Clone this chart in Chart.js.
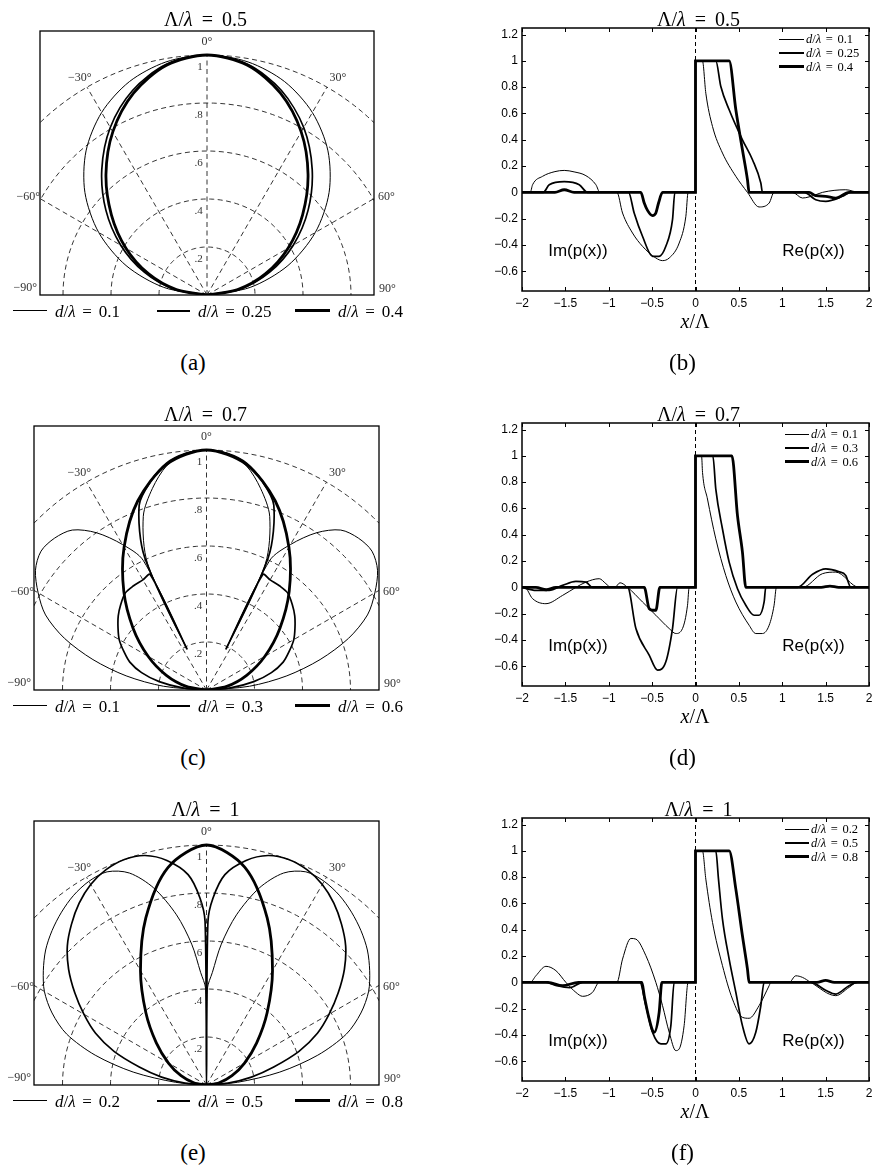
<!DOCTYPE html>
<html>
<head>
<meta charset="utf-8">
<script src="https://cdn.jsdelivr.net/npm/chart.js@4/dist/chart.umd.min.js"></script>
<style>
  html, body { margin: 0; padding: 0; background: #fff; }
  body { width: 872px; height: 1169px; position: relative; overflow: hidden; font-family: "Liberation Serif", serif; }
  canvas { position: absolute; }
  .tx { position: absolute; white-space: nowrap; line-height: 1; color: #000; }
  .ln { position: absolute; background: #000; }
</style>
</head>
<body>
<script>
// ---------- polar patterns (angle in degrees, normalised amplitude), mirrored to negative angles ----------
const angA = [0, 10, 20, 30, 40, 50, 60, 70, 80, 90];
const rA1 = [1, 0.986, 0.946, 0.878, 0.784, 0.664, 0.521, 0.359, 0.183, 0];   // d/λ = 0.1
const rA2 = [1, 0.976, 0.907, 0.806, 0.682, 0.55, 0.415, 0.278, 0.14, 0];     // d/λ = 0.25
const rA3 = [1, 0.972, 0.895, 0.785, 0.655, 0.52, 0.39, 0.26, 0.13, 0];       // d/λ = 0.4

const angC = [0, 5, 10, 15, 20, 25, 25.5, 26, 30, 35, 40, 45, 50, 55, 60, 65, 70, 75, 80, 85, 90];
const rC1 = [1, 0.99, 0.95, 0.87, 0.77, 0.58, 0.19, 0.6, 0.7, 0.8, 0.87, 0.895, 0.9, 0.87, 0.81, 0.74, 0.63, 0.49, 0.34, 0.18, 0];
const rC2 = [1, 0.99, 0.96, 0.9, 0.82, 0.61, 0.19, 0.535, 0.53, 0.53, 0.527, 0.505, 0.48, 0.45, 0.42, 0.38, 0.34, 0.28, 0.2, 0.1, 0];
const rC3 = [1, 0.955, 0.838, 0.687, 0.536, 0.399, 0.281, 0.178, 0.086, 0];   // on angA

const angE1 = [0, 0.5, 3, 6, 10, 15, 20, 25, 30, 35, 40, 45, 50, 55, 60, 65, 70, 75, 80, 85, 90];
const rE1 = [0, 0.4, 0.47, 0.59, 0.72, 0.85, 0.94, 0.98, 0.98, 0.965, 0.94, 0.91, 0.875, 0.83, 0.78, 0.71, 0.62, 0.48, 0.31, 0.13, 0];
const angE2 = [0, 0.5, 2, 5, 10, 15, 20, 25, 30, 35, 40, 45, 50, 55, 60, 65, 70, 75, 80, 85, 90];
const rE2 = [0, 0.68, 0.78, 0.88, 0.95, 0.99, 1, 0.99, 0.965, 0.925, 0.875, 0.82, 0.75, 0.67, 0.59, 0.51, 0.41, 0.29, 0.19, 0.09, 0];
const rE3 = [1, 0.921, 0.74, 0.55, 0.393, 0.273, 0.183, 0.113, 0.054, 0];    // on angA

// ---------- p(x) profiles: x/Λ and value ----------
const xB1 = [-2, -1.905, -1.878, -1.763, -1.62, -1.513, -1.4, -1.263, -1.148, -1.102, -0.906, -0.841, -0.726, -0.611, -0.457, -0.38, -0.303, -0.188, -0.111, -0.085, 0, 0, 0.08, 0.119, 0.196, 0.311, 0.465, 0.599, 0.733, 0.849, 0.906, 1.117, 1.233, 1.386, 1.463, 1.732, 1.886, 2];
const yB1 = [0, 0, 0.058, 0.122, 0.158, 0.167, 0.156, 0.127, 0.058, 0, 0, -0.157, -0.309, -0.41, -0.499, -0.519, -0.499, -0.385, -0.182, 0, 0, 1, 1, 0.754, 0.501, 0.299, 0.122, 0, -0.111, -0.081, 0, 0, -0.043, -0.018, 0, 0.02, 0, 0];
const xB2 = [-2, -1.755, -1.686, -1.513, -1.34, -1.244, -0.772, -0.707, -0.611, -0.495, -0.419, -0.342, -0.265, -0.238, 0, 0, 0.234, 0.292, 0.388, 0.541, 0.657, 0.753, 0.772, 1.252, 1.386, 1.502, 1.694, 1.79, 2];
const yB2 = [0, 0, 0.058, 0.081, 0.058, 0, 0, -0.157, -0.334, -0.486, -0.486, -0.41, -0.208, 0, 0, 1, 1, 0.805, 0.628, 0.4, 0.248, 0.071, 0, 0, -0.056, -0.068, -0.03, 0, 0];
const xB3 = [-2, -1.62, -1.513, -1.4, -0.63, -0.591, -0.553, -0.495, -0.457, -0.426, -0.38, 0, 0, 0.388, 0.465, 0.541, 0.599, 0.618, 1.31, 1.386, 1.5, 1.617, 1.77, 2];
const yB3 = [0, 0, 0.02, 0, 0, -0.081, -0.137, -0.177, -0.157, -0.081, 0, 0, 1, 1, 0.628, 0.324, 0.096, 0, 0, -0.025, -0.03, -0.043, 0, 0];

const xD1 = [-2, -1.97, -1.878, -1.724, -1.532, -1.379, -1.263, -1.11, -1.033, -0.975, -0.93, -0.87, -0.783, -0.611, -0.457, -0.303, -0.227, -0.15, -0.092, -0.073, 0, 0, 0.07, 0.081, 0.138, 0.234, 0.349, 0.465, 0.618, 0.695, 0.772, 0.849, 0.906, 0.933, 1.233, 1.463, 1.617, 1.886, 2];
const yD1 = [0, 0, -0.086, -0.124, -0.061, 0, 0.04, 0.066, 0.028, 0, 0, 0.035, 0, -0.111, -0.212, -0.313, -0.351, -0.313, -0.136, 0, 0, 1, 1, 0.874, 0.672, 0.369, 0.091, -0.111, -0.288, -0.351, -0.351, -0.288, -0.136, 0, 0, 0.104, 0.116, 0, 0];
const xD2 = [-2, -1.84, -1.686, -1.532, -1.379, -1.263, -1.187, -0.783, -0.687, -0.534, -0.438, -0.342, -0.265, -0.207, 0, 0, 0.2, 0.234, 0.311, 0.388, 0.484, 0.58, 0.676, 0.733, 0.791, 0.81, 1.175, 1.35, 1.502, 1.65, 1.732, 1.79, 2];
const yD2 = [0, -0.023, -0.023, 0.015, 0.045, 0.04, 0, 0, -0.313, -0.515, -0.629, -0.566, -0.313, 0, 0, 1, 1, 0.747, 0.444, 0.192, -0.01, -0.136, -0.212, -0.212, -0.111, 0, 0, 0.1, 0.141, 0.12, 0.091, 0, 0];
const xD3 = [-2, -1.84, -1.72, -1.61, -0.591, -0.534, -0.495, -0.457, -0.411, 0, 0, 0.42, 0.484, 0.541, 0.58, 1.45, 1.55, 1.65, 2];
const yD3 = [0, 0, -0.018, 0, 0, -0.162, -0.174, -0.174, 0, 0, 1, 1, 0.545, 0.268, 0, 0, 0.01, 0, 0];

const xF1 = [-2, -1.905, -1.84, -1.724, -1.609, -1.494, -1.379, -1.302, -1.187, -1.11, -0.906, -0.841, -0.745, -0.687, -0.572, -0.457, -0.38, -0.303, -0.227, -0.188, -0.131, -0.085, 0, 0, 0.08, 0.119, 0.196, 0.311, 0.426, 0.541, 0.618, 0.733, 0.849, 0.868, 1.08, 1.156, 1.233, 1.329, 1.617, 1.77, 1.866, 2];
const yF1 = [0, 0, 0.05, 0.122, 0.089, 0, -0.076, -0.106, -0.076, 0, 0, 0.177, 0.334, 0.329, 0.203, 0, -0.177, -0.38, -0.519, -0.506, -0.329, 0, 0, 1, 1, 0.785, 0.456, 0.127, -0.127, -0.266, -0.273, -0.177, -0.025, 0, 0, 0.05, 0.038, 0, -0.101, -0.038, 0, 0];
const xF2 = [-2, -1.724, -1.6, -1.45, -1.3, -0.641, -0.572, -0.495, -0.399, -0.342, -0.284, -0.246, 0, 0, 0.234, 0.265, 0.311, 0.388, 0.465, 0.541, 0.618, 0.695, 0.753, 0.791, 1.33, 1.5, 1.617, 1.77, 1.87, 2];
const yF2 = [0, 0, -0.025, -0.04, 0, 0, -0.177, -0.38, -0.468, -0.468, -0.329, 0, 0, 1, 1, 0.785, 0.481, 0.177, -0.076, -0.329, -0.468, -0.38, -0.177, 0, 0, -0.06, -0.089, -0.025, 0, 0];
const xF3 = [-2, -1.7, -1.532, -1.35, -0.618, -0.591, -0.534, -0.495, -0.476, -0.419, -0.388, 0, 0, 0.388, 0.465, 0.541, 0.599, 0.618, 1.4, 1.5, 1.6, 2];
const yF3 = [0, 0, -0.025, 0, 0, -0.101, -0.278, -0.367, -0.38, -0.228, 0, 0, 1, 1, 0.709, 0.354, 0.101, 0, 0, 0.015, 0, 0];

// ---------- axes / labels ----------
const xTicks = [-2, -1.5, -1, -0.5, 0, 0.5, 1, 1.5, 2];
const yTicks = [-0.6, -0.4, -0.2, 0, 0.2, 0.4, 0.6, 0.8, 1, 1.2];
const ringR = [0.2, 0.4, 0.6, 0.8, 1];
const ringLbl = ['.2', '.4', '.6', '.8', '1'];
const spokeDeg = [-60, -30, 0, 30, 60];
const ratios = ['0.5', '0.7', '1'];
const legA = ['0.1', '0.25', '0.4'];
const legC = ['0.1', '0.3', '0.6'];
const legE = ['0.2', '0.5', '0.8'];
const widths = [1, 1.7, 2.8];
const legWidths = [1, 2, 3.3];

const deg = Math.PI / 180;

function polarPoints(ang, r) {
  const pts = [];
  for (let i = ang.length - 1; i > 0; i--) pts.push({ x: -r[i] * Math.sin(ang[i] * deg), y: r[i] * Math.cos(ang[i] * deg) });
  for (let i = 0; i < ang.length; i++) pts.push({ x: r[i] * Math.sin(ang[i] * deg), y: r[i] * Math.cos(ang[i] * deg) });
  return pts;
}

function zip(xs, ys) {
  return xs.map((x, i) => ({ x: x, y: ys[i] }));
}

const dash = { showLine: true, borderColor: '#000', borderWidth: 0.8, borderDash: [5, 3.5], pointRadius: 0, tension: 0 };

function gridSets() {
  const sets = [];
  ringR.forEach(rr => {
    const pts = [];
    for (let a = -90; a <= 90; a += 2) pts.push({ x: rr * Math.sin(a * deg), y: rr * Math.cos(a * deg) });
    sets.push(Object.assign({ data: pts }, dash));
  });
  spokeDeg.forEach(a => {
    sets.push(Object.assign({ data: [{ x: 0, y: 0 }, { x: Math.sin(a * deg), y: Math.cos(a * deg) }] }, dash));
  });
  return sets;
}

function curve(pts, w, polar) {
  const ds = { data: pts, showLine: true, borderColor: '#000', borderWidth: w, pointRadius: 0 };
  if (polar) ds.tension = 0.3;
  else ds.cubicInterpolationMode = 'monotone';
  return ds;
}

function makeCanvas(left, top, w, h) {
  const c = document.createElement('canvas');
  c.width = w; c.height = h;
  c.style.left = left + 'px'; c.style.top = top + 'px';
  c.style.width = w + 'px'; c.style.height = h + 'px';
  document.body.appendChild(c);
  return c;
}

function txt(x, y, html, size, align, spacing) {
  const d = document.createElement('div');
  d.className = 'tx';
  d.style.left = x + 'px';
  d.style.top = y + 'px';
  d.style.fontSize = size + 'px';
  if (spacing) d.style.wordSpacing = spacing + 'px';
  d.style.transform = align === 'left' ? 'translate(0,-50%)' : 'translate(-50%,-50%)';
  d.innerHTML = html;
  document.body.appendChild(d);
}

function hline(x1, x2, y, w) {
  const d = document.createElement('div');
  d.className = 'ln';
  d.style.left = x1 + 'px';
  d.style.width = (x2 - x1) + 'px';
  d.style.top = (y - w / 2) + 'px';
  d.style.height = w + 'px';
  document.body.appendChild(d);
}

const polarDeco = {
  id: 'polarDeco',
  afterDraw(chart) {
    const { ctx, chartArea: a } = chart;
    const x = chart.scales.x, y = chart.scales.y;
    ctx.save();
    ctx.strokeStyle = '#000';
    ctx.lineWidth = 1.3;
    ctx.strokeRect(a.left, a.top, a.right - a.left, a.bottom - a.top);
    ctx.fillStyle = '#333';
    ctx.textBaseline = 'middle';
    ctx.font = '11px "Liberation Serif"';
    ctx.textAlign = 'right';
    ringR.forEach((rr, i) => ctx.fillText(ringLbl[i], x.getPixelForValue(-0.018), y.getPixelForValue(rr - 0.05)));
    ctx.font = '12px "Liberation Serif"';
    ctx.textAlign = 'center';
    ctx.fillText('0°', x.getPixelForValue(0), y.getPixelForValue(1.055));
    ctx.fillText('−30°', x.getPixelForValue(-0.53), y.getPixelForValue(0.905));
    ctx.fillText('30°', x.getPixelForValue(0.545), y.getPixelForValue(0.905));
    ctx.textAlign = 'right';
    ctx.fillText('−60°', a.left, y.getPixelForValue(0.41));
    ctx.fillText('−90°', a.left - 3, y.getPixelForValue(0.03));
    ctx.textAlign = 'left';
    ctx.fillText('60°', a.right + 4, y.getPixelForValue(0.41));
    ctx.fillText('90°', a.right + 5, y.getPixelForValue(0.025));
    ctx.restore();
  }
};

const lineDeco = {
  id: 'lineDeco',
  afterDraw(chart) {
    const { ctx, chartArea: a } = chart;
    const x = chart.scales.x, y = chart.scales.y;
    ctx.save();
    ctx.strokeStyle = '#000';
    ctx.lineWidth = 1;
    ctx.beginPath();
    xTicks.forEach(v => {
      const p = Math.round(x.getPixelForValue(v)) + 0.5;
      ctx.moveTo(p, a.bottom); ctx.lineTo(p, a.bottom - 4);
      ctx.moveTo(p, a.top); ctx.lineTo(p, a.top + 4);
    });
    yTicks.forEach(v => {
      const p = Math.round(y.getPixelForValue(v)) + 0.5;
      ctx.moveTo(a.left, p); ctx.lineTo(a.left + 4, p);
      ctx.moveTo(a.right, p); ctx.lineTo(a.right - 4, p);
    });
    ctx.stroke();
    ctx.lineWidth = 1.5;
    ctx.strokeRect(a.left, a.top, a.right - a.left, a.bottom - a.top);
    ctx.fillStyle = '#000';
    ctx.font = '17px "Liberation Sans"';
    ctx.textAlign = 'center';
    ctx.textBaseline = 'middle';
    ctx.fillText('Im(p(x))', x.getPixelForValue(-1.355), y.getPixelForValue(-0.45));
    ctx.fillText('Re(p(x))', x.getPixelForValue(1.36), y.getPixelForValue(-0.45));
    ctx.restore();
  }
};

function polarChart(boxTop, boxLeft, boxW, curves) {
  const pad = 8, H = 264;
  const cv = makeCanvas(0, boxTop - pad, 436, H + 2 * pad);
  const half = boxW / 2 / 240;
  new Chart(cv, {
    type: 'scatter',
    data: { datasets: curves.concat(gridSets()) },
    options: {
      responsive: false, animation: false, devicePixelRatio: 1, events: [],
      layout: { padding: { left: boxLeft, right: 436 - boxLeft - boxW, top: pad, bottom: pad } },
      scales: {
        x: { type: 'linear', min: -half, max: half, display: false },
        y: { type: 'linear', min: 0, max: 1.1, display: false }
      },
      plugins: { legend: { display: false }, tooltip: { enabled: false } }
    },
    plugins: [polarDeco]
  });
}

const fmt = v => String(Math.round(v * 100) / 100).replace('-', '−');
const tickFont = { family: '"Liberation Sans"', size: 12 };

function lineChart(top, curves) {
  const W = 436, H = 322;
  const cv = makeCanvas(436, top, W, H);
  const zero = Object.assign({ data: [{ x: 0, y: -0.75 }, { x: 0, y: 1.25 }] }, dash, { borderWidth: 1, borderDash: [4, 3] });
  new Chart(cv, {
    type: 'scatter',
    data: { datasets: curves.concat([zero]) },
    options: {
      responsive: false, animation: false, devicePixelRatio: 1, events: [],
      layout: { padding: { left: 0, right: 3, top: 28, bottom: 0 } },
      scales: {
        x: {
          type: 'linear', min: -2, max: 2,
          afterBuildTicks: s => { s.ticks = xTicks.map(v => ({ value: v })); },
          afterFit: s => { s.height = H - 291; s.paddingLeft = 0; s.paddingRight = 0; },
          grid: { display: false, drawTicks: false }, border: { display: false },
          ticks: { callback: fmt, font: tickFont, color: '#000', padding: 5, maxRotation: 0, autoSkip: false }
        },
        y: {
          type: 'linear', min: -0.75, max: 1.25,
          afterBuildTicks: s => { s.ticks = yTicks.map(v => ({ value: v })); },
          afterFit: s => { s.width = 86; s.paddingTop = 0; s.paddingBottom = 0; },
          grid: { display: false, drawTicks: false }, border: { display: false },
          ticks: { callback: fmt, font: tickFont, color: '#000', padding: 4, autoSkip: false }
        }
      },
      plugins: { legend: { display: false }, tooltip: { enabled: false } }
    },
    plugins: [lineDeco]
  });
}

// ---------- charts ----------
polarChart(31, 40, 334, [
  curve(polarPoints(angA, rA1), widths[0], true),
  curve(polarPoints(angA, rA2), widths[1], true),
  curve(polarPoints(angA, rA3), widths[2], true)
]);
polarChart(426, 34, 345, [
  curve(polarPoints(angC, rC1), widths[0], true),
  curve(polarPoints(angC, rC2), widths[1], true),
  curve(polarPoints(angA, rC3), widths[2], true)
]);
polarChart(821, 34, 345, [
  curve(polarPoints(angE1, rE1), widths[0], true),
  curve(polarPoints(angE2, rE2), widths[1], true),
  curve(polarPoints(angA, rE3), widths[2], true)
]);

lineChart(0, [curve(zip(xB1, yB1), widths[0]), curve(zip(xB2, yB2), widths[1]), curve(zip(xB3, yB3), widths[2])]);
lineChart(395, [curve(zip(xD1, yD1), widths[0]), curve(zip(xD2, yD2), widths[1]), curve(zip(xD3, yD3), widths[2])]);
lineChart(790, [curve(zip(xF1, yF1), widths[0]), curve(zip(xF2, yF2), widths[1]), curve(zip(xF3, yF3), widths[2])]);

// ---------- text: titles, legends, axis names, panel letters ----------
const rowOff = [0, 395, 790];
const legs = [legA, legC, legE];
const dl = v => '<i>d</i>/<i>λ</i> = ' + v;
const polarLegX = [[13, 47, 55], [157, 190, 198], [295, 330, 338]];

rowOff.forEach((off, k) => {
  const title = 'Λ/<i>λ</i> = ' + ratios[k];
  txt(205.5, 18.5 + off, title, 20, 'center', 4);
  txt(698.5, 18.5 + off, title, 20, 'center', 4);
  txt(695, 321 + off, '<i>x</i>/Λ', 20);
  txt(193, 362 + off, '(' + 'ace'[k] + ')', 23, 'center');
  txt(682.5, 362 + off, '(' + 'bdf'[k] + ')', 23, 'center');
  // legend under polar plot
  legs[k].forEach((v, i) => {
    const p = polarLegX[i];
    hline(p[0], p[1], 310.5 + off, legWidths[i]);
    txt(p[2], 310.5 + off, dl(v), 17, 'left', 2.5);
  });
  // legend inside the profile plot
  const lx = k === 0 ? [779, 804, 806] : [785, 809, 811];
  legs[k].forEach((v, i) => {
    const yy = 28 + off + 11 + 13.8 * i;
    hline(lx[0], lx[1], yy, legWidths[i]);
    txt(lx[2], yy, dl(v), 12.5, 'left', 1.5);
  });
});
</script>
</body>
</html>
